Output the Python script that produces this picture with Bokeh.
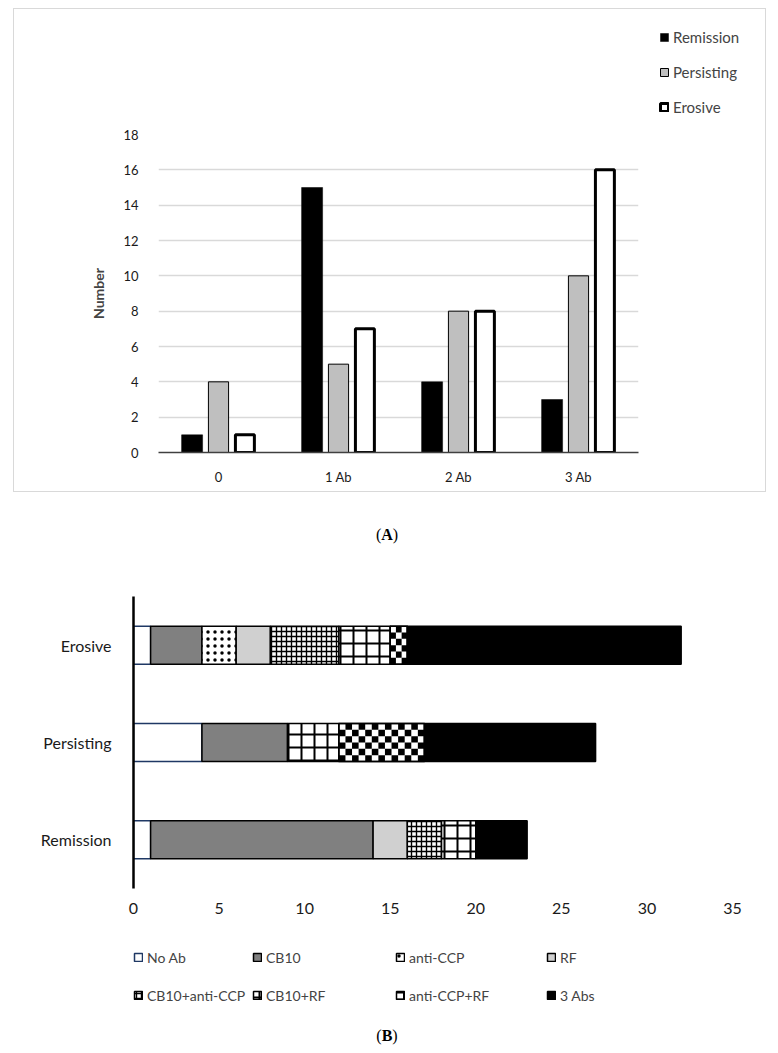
import numpy as np
from bokeh.plotting import figure
from bokeh.models import (FactorRange, Range1d, FixedTicker, Legend, LegendItem, Div,
                          ColumnDataSource, BoxAnnotation)
from bokeh.transform import dodge
from bokeh.embed import file_html
from bokeh.resources import INLINE

# ---------------- Data: chart A ----------------
groups = ["0", "1 Ab", "2 Ab", "3 Ab"]
remission_a = [1, 15, 4, 3]
persisting_a = [4, 5, 8, 10]
erosive_a = [1, 7, 8, 16]
y_ticks_a = [0, 2, 4, 6, 8, 10, 12, 14, 16, 18]

# ---------------- Data: chart B ----------------
outcomes = ["Remission", "Persisting", "Erosive"]  # bottom -> top
ab_types = ["No Ab", "CB10", "anti-CCP", "RF", "CB10+anti-CCP", "CB10+RF", "anti-CCP+RF", "3 Abs"]
no_ab = [1, 4, 1]
cb10 = [13, 5, 3]
anti_ccp = [0, 0, 2]
rf = [2, 0, 2]
cb10_anti_ccp = [2, 0, 4]
cb10_rf = [2, 3, 3]
anti_ccp_rf = [0, 5, 1]
three_abs = [3, 10, 16]
x_ticks_b = [0, 5, 10, 15, 20, 25, 30, 35]

FONT = "Lato"
W = 758

# ================= Chart A =================
pa = figure(x_range=FactorRange(factors=groups), y_range=Range1d(0, 18),
            width=753, height=484, output_backend="svg", toolbar_location=None,
            min_border_left=144, min_border_right=129, min_border_top=125, min_border_bottom=41,
            margin=(8, 0, 0, 13))
pa.styles = {"border": "1px solid #d9d9d9"}
pa.outline_line_color = None
pa.xgrid.grid_line_color = None
pa.ygrid.grid_line_color = "#d9d9d9"
pa.ygrid.grid_line_width = 1.3
pa.yaxis.ticker = FixedTicker(ticks=y_ticks_a)
pa.yaxis.axis_line_color = None
pa.yaxis.major_tick_line_color = None
pa.yaxis.minor_tick_line_color = None
pa.yaxis.major_label_standoff = 14
pa.yaxis.axis_label = "Number"
pa.yaxis.axis_label_text_font = FONT
pa.yaxis.axis_label_text_font_style = "bold"
pa.yaxis.axis_label_text_font_size = "14px"
pa.yaxis.axis_label_standoff = 13
pa.xaxis.axis_line_color = "#404040"
pa.xaxis.axis_line_width = 1.5
pa.xaxis.major_tick_line_color = None
pa.xaxis.minor_tick_line_color = None
pa.xaxis.major_label_standoff = 10
for ax in (pa.xaxis, pa.yaxis):
    ax.major_label_text_font = FONT
    ax.major_label_text_font_size = "13px"
    ax.major_label_text_color = "#1a1a1a"

src_a = ColumnDataSource(dict(g=groups, rem=remission_a, per=persisting_a, ero=erosive_a))
styles_a = [
    dict(top="rem", offset=-0.22, width=0.175, fill_color="black", line_color="black", line_width=0.5),
    dict(top="per", offset=0.0, width=0.168, fill_color="#bfbfbf", line_color="black", line_width=1),
    dict(top="ero", offset=0.22, width=0.158, fill_color="white", line_color="black", line_width=3),
]
for st in styles_a:
    st = dict(st)
    off = st.pop("offset")
    pa.vbar(x=dodge("g", off, range=pa.x_range), source=src_a, **st)

# legend of chart A: a small strip laid over the blank top-right corner of chart A.
# Its swatch renderers are hidden beneath an opaque white mask; only the legend shows.
la = figure(x_range=FactorRange(factors=groups, range_padding=0.5), y_range=Range1d(-2, 20),
            width=104, height=100, output_backend="svg", toolbar_location=None,
            x_axis_type=None, y_axis_type=None, min_border=0,
            margin=(-464, 0, 364, 659))
la.outline_line_color = None
la.grid.visible = False
prox_a = []
for st in styles_a:
    st = dict(st)
    off = st.pop("offset")
    prox_a.append(la.vbar(x=dodge("g", off, range=la.x_range), source=src_a, **st))
la.add_layout(BoxAnnotation(fill_color="white", fill_alpha=1, line_color=None))
leg_a = Legend(items=[LegendItem(label="Remission", renderers=[prox_a[0]]),
                      LegendItem(label="Persisting", renderers=[prox_a[1]]),
                      LegendItem(label="Erosive", renderers=[prox_a[2]])],
               location="top_left", orientation="vertical",
               glyph_width=10, glyph_height=10, label_standoff=4, spacing=17,
               label_height=18, padding=0, margin=0,
               label_text_font=FONT, label_text_font_size="15px",
               background_fill_alpha=0, border_line_color=None)
la.add_layout(leg_a, "center")

cap_a = Div(text="<div style='width:758px;text-align:center;font-family:\"Liberation Serif\";"
                 "font-size:16px;padding-top:32px'>(<b>A</b>)</div>",
            width=W, height=66, margin=(0, 0, 0, 8))

# ================= Chart B =================
y_idx = np.arange(len(outcomes))
FRAME_W, FRAME_H = 599, 292
pb = figure(y_range=Range1d(-0.5, len(outcomes) - 0.5), x_range=Range1d(0, 35),
            width=W, height=367, output_backend="svg", toolbar_location=None,
            min_border_left=125, min_border_right=34, min_border_top=38, min_border_bottom=37,
            margin=(0, 0, 0, 8))
pb.outline_line_color = None
pb.xgrid.grid_line_color = None
pb.ygrid.grid_line_color = None
pb.xaxis.ticker = FixedTicker(ticks=x_ticks_b)
pb.xaxis.axis_line_color = None
pb.xaxis.major_tick_line_color = None
pb.xaxis.minor_tick_line_color = None
pb.xaxis.major_label_standoff = 8
pb.yaxis.ticker = FixedTicker(ticks=list(y_idx))
pb.yaxis.major_label_overrides = {int(i): o for i, o in zip(y_idx, outcomes)}
pb.yaxis.axis_line_color = "black"
pb.yaxis.axis_line_width = 2.5
pb.yaxis.major_tick_line_color = None
pb.yaxis.minor_tick_line_color = None
pb.yaxis.major_label_standoff = 16
for ax in (pb.xaxis, pb.yaxis):
    ax.major_label_text_font = FONT
    ax.major_label_text_font_size = "16px"
    ax.major_label_text_color = "#1a1a1a"

BAR_H = 0.39
styles_b = [
    dict(fill_color="white", line_color="#1f3864", line_width=1.5),
    dict(fill_color="#808080", line_color="black", line_width=1.5),
    dict(fill_color="white", line_color="black", line_width=1.5, hatch_pattern="dot",
         hatch_color="black", hatch_scale=7),
    dict(fill_color="#d0d0d0", line_color="black", line_width=1.5),
    dict(fill_color="white", line_color="black", line_width=1.5, hatch_pattern="cross",
         hatch_color="black", hatch_scale=5, hatch_weight=1.4),
    dict(fill_color="white", line_color="black", line_width=1.5, hatch_pattern="cross",
         hatch_color="black", hatch_scale=13, hatch_weight=2),
    dict(fill_color="white", line_color="black", line_width=1.5),   # checkerboard cells added below
    dict(fill_color="black", line_color="black", line_width=1.5),
]
# legend look of each type (checkerboard shown as black with a white block)
legend_styles_b = list(styles_b)
legend_styles_b[6] = dict(fill_color="black", line_color="black", line_width=1.5,
                          hatch_pattern="horizontal_dash", hatch_color="white",
                          hatch_scale=10, hatch_weight=5)

series_b = [no_ab, cb10, anti_ccp, rf, cb10_anti_ccp, cb10_rf, anti_ccp_rf, three_abs]
cum = np.zeros(len(outcomes))
sources_b = []
for name, vals, st in zip(ab_types, series_b, styles_b):
    vals = np.array(vals, dtype=float)
    left = cum.copy()
    right = cum + vals
    cum = right
    mask = vals > 0
    src = ColumnDataSource(dict(y=y_idx[mask], left=left[mask], right=right[mask]))
    sources_b.append(src)
    pb.hbar(y="y", left="left", right="right", height=BAR_H, source=src, **st)

    if name == "anti-CCP+RF":
        # checkerboard fill derived from each segment's extent
        cl, cr, cb, ct = [], [], [], []
        cell_px = 6.5
        ny = 6
        for yy, L, R in zip(y_idx[mask], left[mask], right[mask]):
            nx = max(1, int(round((R - L) * FRAME_W / 35 / cell_px)))
            xs = np.linspace(L, R, nx + 1)
            ys = np.linspace(yy - BAR_H / 2, yy + BAR_H / 2, ny + 1)
            for i in range(nx):
                for j in range(ny):
                    if (i + j) % 2 == 0:
                        cl.append(xs[i]); cr.append(xs[i + 1])
                        cb.append(ys[j]); ct.append(ys[j + 1])
        pb.quad(left=cl, right=cr, bottom=cb, top=ct, fill_color="black", line_color=None)
        pb.hbar(y="y", left="left", right="right", height=BAR_H, source=src,
                fill_color=None, line_color="black", line_width=1.5)

# ---------- legend of chart B (own strip; swatch renderers hidden under a white mask) ----------
pl = figure(width=W, height=88, x_range=Range1d(-2, 37), y_range=Range1d(-1, 3),
            output_backend="svg", toolbar_location=None, x_axis_type=None, y_axis_type=None,
            min_border=0, margin=(0, 0, 0, 8))
pl.outline_line_color = None
pl.grid.visible = False
proxies = []
for name, src, st in zip(ab_types, sources_b, legend_styles_b):
    r = pl.hbar(y="y", left="left", right="right", height=BAR_H, source=src, **st)
    proxies.append((name, r))
pl.add_layout(BoxAnnotation(fill_color="white", fill_alpha=1, line_color=None))

col_x = [125, 244, 387, 538]
for ci in range(4):
    items = [LegendItem(label=proxies[ci][0], renderers=[proxies[ci][1]]),
             LegendItem(label=proxies[ci + 4][0], renderers=[proxies[ci + 4][1]])]
    lg = Legend(items=items, location=(col_x[ci], 8), orientation="vertical",
                glyph_width=10, glyph_height=10, label_standoff=4, spacing=18,
                label_height=20, padding=0, margin=0,
                label_text_font=FONT, label_text_font_size="14px",
                background_fill_alpha=0, border_line_color=None)
    pl.add_layout(lg, "center")

cap_b = Div(text="<div style='width:758px;text-align:center;font-family:\"Liberation Serif\";"
                 "font-size:16px;padding-top:12px'>(<b>B</b>)</div>",
            width=W, height=34, margin=(0, 0, 0, 8))

open("out.html", "w").write(file_html([pa, la, cap_a, pb, pl, cap_b], INLINE))
